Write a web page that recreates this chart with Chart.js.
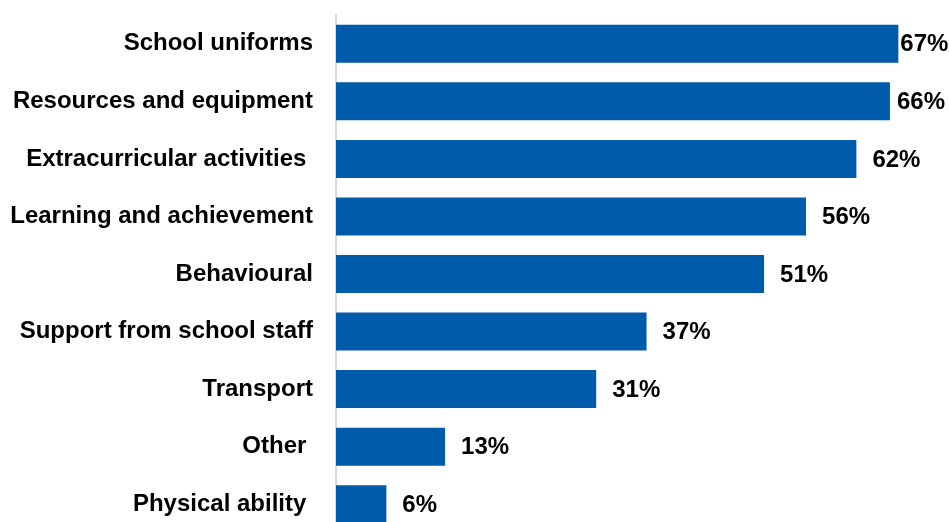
<!DOCTYPE html>
<html>
<head>
<meta charset="utf-8">
<script src="https://cdn.jsdelivr.net/npm/chart.js@4"></script>
<style>
  html, body { margin: 0; padding: 0; background: #fff; overflow: hidden; }
  #wrap { width: 949px; height: 533px; }
</style>
</head>
<body>
<div id="wrap"><canvas id="barChart" width="949" height="533"></canvas></div>
<script>
const categories = [
  'School uniforms',
  'Resources and equipment',
  'Extracurricular activities ',
  'Learning and achievement',
  'Behavioural',
  'Support from school staff',
  'Transport',
  'Other ',
  'Physical ability '
];
const percentages = [67, 66, 62, 56, 51, 37, 31, 13, 6];

const barColour = '#005BAA';
const fontFamily = 'Liberation Sans, Arial, sans-serif';
const categoryFont = { family: fontFamily, size: 24, weight: 'bold' };
const valueFontSize = 24;

// percentage text after each bar, pulled back in if it would run off the right edge
const valueLabels = {
  id: 'valueLabels',
  afterDatasetsDraw(chart) {
    const ctx = chart.ctx;
    const meta = chart.getDatasetMeta(0);
    ctx.save();
    ctx.font = `bold ${valueFontSize}px ${fontFamily}`;
    ctx.fillStyle = '#000';
    ctx.textBaseline = 'middle';
    ctx.textAlign = 'left';
    meta.data.forEach((bar, i) => {
      const text = percentages[i] + '%';
      const w = ctx.measureText(text).width;
      const x = Math.max(Math.min(bar.x + 16, chart.width - 4 - w), bar.x + 2);
      ctx.fillText(text, x, bar.y + 1);
    });
    ctx.restore();
  }
};

const ctx1 = document.getElementById('barChart').getContext('2d');
const myChart = new Chart(ctx1, {
  type: 'bar',
  data: {
    labels: categories,
    datasets: [{
      data: percentages,
      backgroundColor: barColour,
      borderWidth: 0,
      categoryPercentage: 1,
      barPercentage: 0.66,
    }],
  },
  options: {
    indexAxis: 'y',
    responsive: false,
    animation: false,
    layout: {
      padding: { top: 15, right: 7, bottom: 0, left: 0 },
    },
    plugins: {
      legend: { display: false },
      tooltip: { enabled: false },
    },
    scales: {
      x: {
        display: false,
        min: 0,
        max: 72.2,
      },
      y: {
        grid: { display: false, drawTicks: false },
        border: { display: true, color: '#d9d9d9', width: 2 },
        ticks: {
          color: '#000',
          font: categoryFont,
          padding: 23,
          autoSkip: false,
        },
        afterFit(scale) {
          scale.width = 336;
          scale.paddingTop = 0;
          scale.paddingBottom = 0;
        },
      },
    },
  },
  plugins: [valueLabels],
});
</script>
</body>
</html>
